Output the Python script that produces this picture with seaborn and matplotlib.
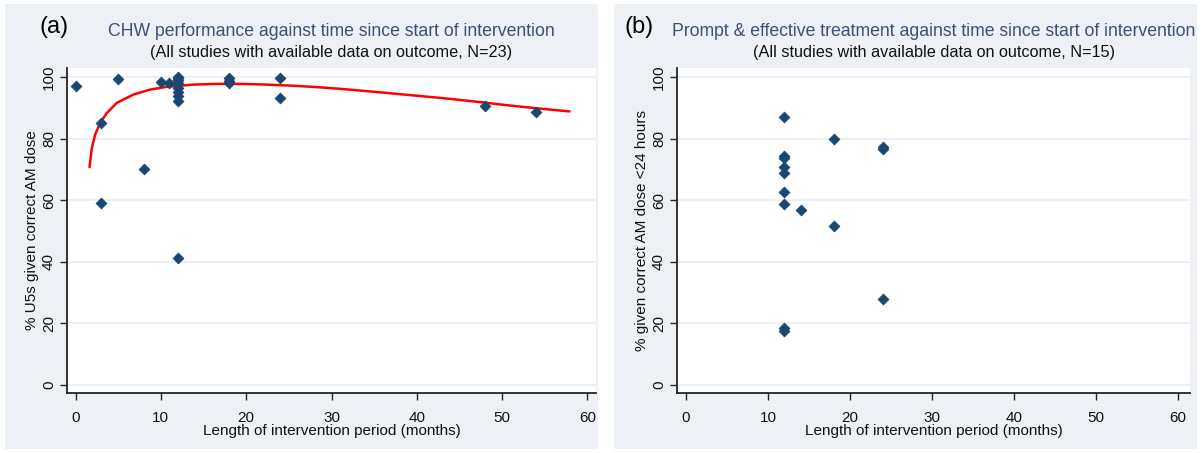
import numpy as np
import pandas as pd
import matplotlib
matplotlib.use("Agg")
import matplotlib.pyplot as plt
import seaborn as sns
from matplotlib.patches import Rectangle

# Panel (a): CHW performance
a_months = [0, 3, 3, 5, 8, 10, 11, 12, 12, 12, 12, 12, 12, 12, 12, 18, 18, 18, 24, 24, 48, 54, 12]
a_pct = [97.1, 85.2, 59.2, 99.2, 70.1, 98.4, 98.0, 100.0, 99.0, 98.0, 96.3, 95.2, 93.7, 92.1, 41.3,
         99.5, 98.8, 98.0, 99.7, 93.0, 90.6, 88.7, 99.5]

# fitted curve
fit_months = [1.64, 1.91, 2.3, 2.89, 3.67, 4.84, 6.8, 8.75, 10.7, 13.8, 16.5, 19.3, 22.0, 25.1, 28.0,
              31.0, 35.7, 40.0, 43.5, 47.5, 51.3, 54.5, 57.9]
fit_pct = [70.7, 76.9, 81.3, 85.1, 88.3, 91.6, 94.3, 95.9, 96.8, 97.5, 97.75, 97.75, 97.55, 97.2, 96.75,
           96.15, 95.0, 93.9, 93.0, 91.8, 90.6, 89.7, 88.8]

# Panel (b): prompt & effective treatment
b_months = [12, 12, 12, 12, 12, 12, 12, 12, 12, 14, 18, 18, 24, 24, 24]
b_pct = [87.1, 74.3, 73.8, 70.9, 68.7, 62.6, 58.9, 18.4, 17.6, 56.7, 80.0, 51.7, 77.2, 76.6, 28.0]

yticks = [0, 20, 40, 60, 80, 100]
xticks = [0, 10, 20, 30, 40, 50, 60]

sns.set_style("white")
plt.rcParams['font.family'] = ['Liberation Sans Narrow', 'Liberation Sans', 'DejaVu Sans']

navy = "#1a476f"
bg = "#edf1f6"
W, H = 1201, 453
fig = plt.figure(figsize=(W / 100, H / 100), dpi=100)

# panel backgrounds
fig.patches.append(Rectangle((5 / W, 1 - 449 / H), 593 / W, 445 / H, transform=fig.transFigure,
                             facecolor=bg, edgecolor="none", zorder=-10))
fig.patches.append(Rectangle((614 / W, 1 - 449 / H), 583 / W, 445 / H, transform=fig.transFigure,
                             facecolor=bg, edgecolor="none", zorder=-10))

ax1 = fig.add_axes([67 / W, 1 - 393 / H, 529 / W, 325 / H])
ax2 = fig.add_axes([677 / W, 1 - 393 / H, 513 / W, 325 / H])

df_a = pd.DataFrame({"months": a_months, "pct": a_pct})
df_fit = pd.DataFrame({"months": fit_months, "pct": fit_pct})
df_b = pd.DataFrame({"months": b_months, "pct": b_pct})

sns.scatterplot(data=df_a, x="months", y="pct", ax=ax1, marker="D", s=30, color=navy,
                edgecolor=navy, linewidth=0.6, zorder=3)
sns.lineplot(data=df_fit, x="months", y="pct", ax=ax1, color="red", linewidth=1.8,
             sort=False, estimator=None, zorder=2)
sns.scatterplot(data=df_b, x="months", y="pct", ax=ax2, marker="D", s=30, color=navy,
                edgecolor=navy, linewidth=0.6, zorder=3)

for ax, xl, ylab in [(ax1, (-1.0, 61.0), "% U5s given correct AM dose"),
                     (ax2, (-1.1, 61.5), "% given correct AM dose <24 hours")]:
    ax.set_facecolor("white")
    ax.set_xlim(*xl)
    ax.set_ylim(-2.6, 102.9)
    ax.set_xticks(xticks)
    ax.set_yticks(yticks)
    ax.grid(axis="y", color="#eceff4", linewidth=1.5)
    ax.grid(axis="x", visible=False)
    for s in ["top", "right"]:
        ax.spines[s].set_visible(False)
    for s in ["left", "bottom"]:
        ax.spines[s].set_color("#222222")
        ax.spines[s].set_linewidth(1.3)
    ax.tick_params(axis="both", direction="out", length=5, width=1, color="#222222",
                   labelsize=11, labelcolor="#111111", bottom=True, left=True)
    ax.tick_params(axis="x", pad=8)
    ax.tick_params(axis="y", pad=3)
    for lab in ax.get_yticklabels():
        lab.set_rotation(90)
        lab.set_va("center")
    ax.set_xlabel("Length of intervention period (months)", fontsize=11, labelpad=-1, color="#111111")
    ax.set_ylabel(ylab, fontsize=11, labelpad=2, color="#111111")

# titles
title_col = "#3e4f73"
fig.text(331.5 / W, 1 - 31 / H, "CHW performance against time since start of intervention",
         ha="center", va="center", fontsize=12.7, color=title_col)
fig.text(331.5 / W, 1 - 53 / H, "(All studies with available data on outcome, N=23)",
         ha="center", va="center", fontsize=11.7, color="#111111")
fig.text(54 / W, 1 - 27 / H, "(a)", ha="center", va="center", fontsize=17,
         family=["Liberation Sans", "DejaVu Sans"], color="black")

fig.text(933.5 / W, 1 - 31 / H, "Prompt & effective treatment against time since start of intervention",
         ha="center", va="center", fontsize=12.7, color=title_col)
fig.text(933.5 / W, 1 - 53 / H, "(All studies with available data on outcome, N=15)",
         ha="center", va="center", fontsize=11.7, color="#111111")
fig.text(639 / W, 1 - 27 / H, "(b)", ha="center", va="center", fontsize=17,
         family=["Liberation Sans", "DejaVu Sans"], color="black")

fig.savefig("out.png", dpi=100)
